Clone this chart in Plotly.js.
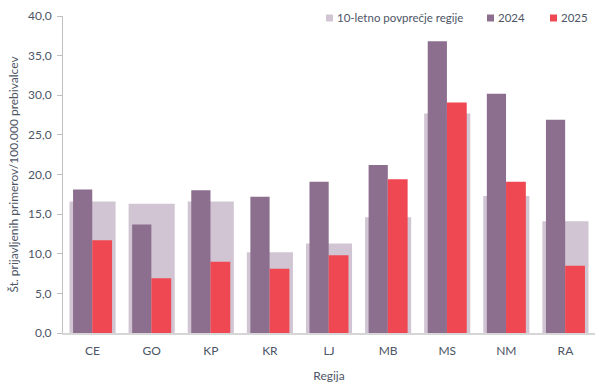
<!DOCTYPE html>
<html>
<head>
<meta charset="utf-8">
<script src="https://cdn.plot.ly/plotly-3.0.1.min.js"></script>
<style>html,body{margin:0;padding:0;background:#fff;}#chart{width:612px;height:388px;}</style>
</head>
<body>
<div id="chart"></div>
<script>
const regions = ["CE","GO","KP","KR","LJ","MB","MS","NM","RA"];
const seriesNames = ["10-letno povprečje regije","2024","2025"];
const avg10 = [16.6,16.3,16.6,10.2,11.3,14.6,27.7,17.3,14.1];
const y2024 = [18.1,13.7,18.0,17.2,19.1,21.2,36.8,30.2,26.9];
const y2025 = [11.7,6.9,9.0,8.1,9.8,19.4,29.1,19.1,8.5];

const colors = ["#d1c5d3","#8c6f8e","#ef4852"];
const font = {family: "Lato, 'Open Sans', sans-serif", size: 11.5, color: "#4d5566"};

const traces = [
  {type:"bar", name:seriesNames[0], x:regions, y:avg10, width:0.78, offset:-0.39,
   marker:{color:colors[0]}, hoverinfo:"y"},
  {type:"bar", name:seriesNames[1], x:regions, y:y2024, width:0.325, offset:-0.33,
   marker:{color:colors[1]}, hoverinfo:"y"},
  {type:"bar", name:seriesNames[2], x:regions, y:y2025, width:0.335, offset:-0.005,
   marker:{color:colors[2]}, hoverinfo:"y"}
];

// custom legend (key squares + labels) placed in paper coordinates
const legendKeyX = [0.4944, 0.797, 0.9154];
const keyW = 0.0132, keyTop = 1.0047, keyBot = 0.9827, textY = 0.9937;
const shapes = legendKeyX.map((x,i)=>({type:"rect", xref:"paper", yref:"paper",
  x0:x, x1:x+keyW, y0:keyBot, y1:keyTop, fillcolor:colors[i], line:{width:0}}));
const annotations = legendKeyX.map((x,i)=>({xref:"paper", yref:"paper", x:x+keyW+0.004, y:textY,
  xanchor:"left", yanchor:"middle", showarrow:false, text:seriesNames[i],
  font:{family:font.family, size:11.5, color:"#4d5566"}}));

const layout = {
  width:612, height:388,
  margin:{l:63, r:17, t:16, b:54.5, autoexpand:false},
  paper_bgcolor:"#fff", plot_bgcolor:"#fff",
  barmode:"overlay",
  separators:",.",
  font:font,
  showlegend:false,
  shapes:shapes,
  annotations:annotations,
  xaxis:{type:"category", showline:true, linecolor:"#d6d6d6", linewidth:1.5, ticks:"", ticklabelstandoff:6,
         automargin:false,
         tickfont:{size:12}, title:{text:"Regija", font:{size:12}, standoff:14}, range:[-0.5,8.5], fixedrange:true},
  yaxis:{range:[0,40], dtick:5, tickformat:".1f", showgrid:false, zeroline:false, automargin:false,
         showline:true, linecolor:"#bfbfbf", linewidth:1, ticks:"outside", ticklen:5, tickcolor:"#bfbfbf",
         ticklabelstandoff:3,
         tickfont:{size:12}, title:{text:"Št. prijavljenih primerov/100.000 prebivalcev", font:{size:12}, standoff:6}}
};

Plotly.newPlot("chart", traces, layout, {displayModeBar:false, staticPlot:true});
</script>
</body>
</html>
